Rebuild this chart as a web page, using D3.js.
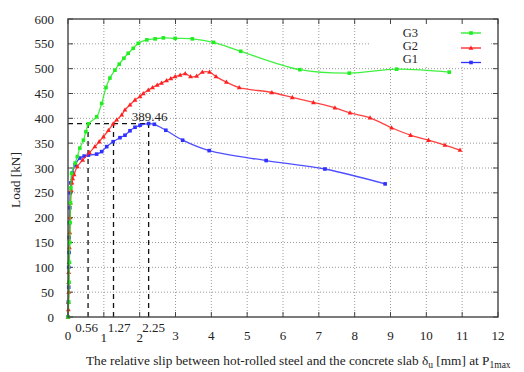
<!DOCTYPE html>
<html><head><meta charset="utf-8">
<script src="https://cdn.jsdelivr.net/npm/d3@7"></script>
<style>body{margin:0;background:#fff}svg{display:block}text{font-family:"Liberation Serif","Times New Roman",serif;fill:#222}</style>
</head><body>
<svg id="c" width="524" height="372"></svg>
<script>
// ---- data ----
const xTicks = [0,1,2,3,4,5,6,7,8,9,10,11,12];
const yTicks = [0,50,100,150,200,250,300,350,400,450,500,550,600];
const specialX = [0.56, 1.27, 2.25];
const specialLabels = ["0.56", "1.27", "2.25"];
const peakLoad = 389.46;
const peakLabel = "389.46";
const seriesNames = ["G3", "G2", "G1"];

const g3x = [0,0.02,0.03,0.04,0.05,0.06,0.07,0.08,0.1,0.2,0.26,0.33,0.43,0.5,0.57,0.8,0.94,1.06,1.17,1.31,1.43,1.56,1.68,1.82,1.96,2.2,2.43,2.66,2.99,3.47,4.06,4.82,6.47,7.85,9.17,10.64];
const g3y = [0,30,70,110,150,190,230,260,289,310,323,340,356,373,389,403,430,462,481,497,509,521,531,541,551,558,560,562,561,560,553,535,498,491,499,493];

const g2x = [0,0.01,0.01,0.02,0.02,0.02,0.03,0.04,0.05,0.06,0.07,0.09,0.11,0.13,0.17,0.26,0.41,0.6,0.75,0.87,0.99,1.13,1.26,1.36,1.5,1.59,1.73,1.87,2.01,2.1,2.24,2.36,2.49,2.61,2.75,2.87,2.99,3.13,3.27,3.42,3.59,3.75,3.95,4.13,4.42,4.78,5.69,6.26,6.85,7.45,7.87,8.43,9.03,9.56,10.06,10.52,10.94];
const g2y = [0,15,30,50,70,90,110,140,170,200,230,255,270,279,287,303,316,331,343,353,363,376,389,397,407,417,427,437,444,450,457,462,467,471,476,480,484,487,490,484,485,493,493,484,473,462,452,442,432,421,411,401,381,366,356,346,336];

const g1x = [0,0.01,0.02,0.02,0.03,0.03,0.04,0.05,0.06,0.08,0.12,0.2,0.33,0.45,0.57,0.8,0.94,1.08,1.26,1.45,1.59,1.73,1.87,2.01,2.25,2.41,2.73,3.2,3.94,5.53,7.17,8.85];
const g1y = [0,30,60,100,130,160,190,220,250,270,290,306,320,324,326,328,333,343,353,361,366,375,382,386,389.46,388,376,356,335,315,298,268];

// ---- chart ----
const svg = d3.select("#c");
const L = 68, R = 498, T = 19, B = 317;
const x = d3.scaleLinear().domain([0,12]).range([L,R]);
const y = d3.scaleLinear().domain([0,600]).range([B,T]);
const gridC = "#9a9a9a";

// grid
svg.append("g").selectAll("line").data(xTicks.slice(1,-1)).join("line")
  .attr("x1", d=>x(d)).attr("x2", d=>x(d)).attr("y1", B).attr("y2", T)
  .attr("stroke", gridC).attr("stroke-width", 1).attr("stroke-dasharray", "1,2");
svg.append("g").selectAll("line").data(yTicks.slice(1,-1)).join("line")
  .attr("x1", L).attr("x2", R).attr("y1", d=>y(d)).attr("y2", d=>y(d))
  .attr("stroke", gridC).attr("stroke-width", 1).attr("stroke-dasharray", "1,2");

// legend background
svg.append("rect").attr("x", 370).attr("y", T+1).attr("width", 120).attr("height", 46).attr("fill", "#fff");

// ticks (inward, all sides)
const tk = 5;
const tg = svg.append("g").attr("stroke", "#444").attr("stroke-width", 1);
xTicks.forEach(d => {
  tg.append("line").attr("x1", x(d)).attr("x2", x(d)).attr("y1", B).attr("y2", B - tk);
  tg.append("line").attr("x1", x(d)).attr("x2", x(d)).attr("y1", T).attr("y2", T + tk);
});
yTicks.forEach(d => {
  tg.append("line").attr("x1", L).attr("x2", L + tk).attr("y1", y(d)).attr("y2", y(d));
  tg.append("line").attr("x1", R).attr("x2", R - tk).attr("y1", y(d)).attr("y2", y(d));
});

// dashed guide lines
const dg = svg.append("g").attr("stroke", "#111").attr("stroke-width", 1.3).attr("stroke-dasharray", "5,4").attr("fill","none");
dg.append("line").attr("x1", x(0)).attr("x2", x(2.25)).attr("y1", y(peakLoad)).attr("y2", y(peakLoad));
specialX.forEach(v => {
  dg.append("line").attr("x1", x(v)).attr("x2", x(v)).attr("y1", y(0)).attr("y2", y(peakLoad));
});

// series
const series = [
  {name: seriesNames[2], xs: g1x, ys: g1y, color: "#3030ff", marker: "square"},
  {name: seriesNames[1], xs: g2x, ys: g2y, color: "#ff2020", marker: "triangle"},
  {name: seriesNames[0], xs: g3x, ys: g3y, color: "#20ee20", marker: "square"}
];
const line = d3.line().x(d=>x(d[0])).y(d=>y(d[1])).curve(d3.curveCatmullRom.alpha(0.5));
function drawMarker(g, cx, cy, s) {
  if (s.marker === "square") {
    g.append("rect").attr("x", cx-1.8).attr("y", cy-1.8).attr("width", 3.6).attr("height", 3.6).attr("fill", s.color);
  } else {
    g.append("path").attr("d", `M${cx},${cy-2.6}L${cx+2.4},${cy+1.7}L${cx-2.4},${cy+1.7}Z`).attr("fill", s.color);
  }
}
series.forEach(s => {
  const pts = s.xs.map((v,i)=>[v, s.ys[i]]);
  svg.append("path").datum(pts).attr("d", line).attr("fill","none")
    .attr("stroke", s.color).attr("stroke-width", 1.3).attr("stroke-opacity", 0.85);
  const mg = svg.append("g");
  pts.forEach(p => drawMarker(mg, x(p[0]), y(p[1]), s));
});

// border
svg.append("rect").attr("x", L).attr("y", T).attr("width", R-L).attr("height", B-T)
  .attr("fill","none").attr("stroke","#444").attr("stroke-width",1.4);

// y tick labels
svg.append("g").selectAll("text").data(yTicks).join("text")
  .attr("x", 54).attr("y", d=>y(d)+4.5).attr("text-anchor","end").attr("font-size", 13)
  .text(d=>d);
// x tick labels
svg.append("g").selectAll("text").data(xTicks).join("text")
  .attr("x", d=>x(d)).attr("y", d=> (d===1||d===2) ? 342 : 340).attr("text-anchor","middle").attr("font-size", 13)
  .text(d=>d);
// special labels
const nudge = [-1.5, 5.5, 5];
svg.append("g").selectAll("text").data(specialX).join("text")
  .attr("x", (d,i)=>x(d)+nudge[i]).attr("y", 332).attr("text-anchor","middle").attr("font-size", 13)
  .text((d,i)=>specialLabels[i]);
// peak label
svg.append("text").attr("x", x(2.25)+1).attr("y", y(peakLoad)-3).attr("text-anchor","middle").attr("font-size", 13).text(peakLabel);

// legend
const legY = [37, 50, 63];
const legLineY = [33, 48, 62.5];
const legSeries = [series[2], series[1], series[0]];
legSeries.forEach((s,i) => {
  svg.append("text").attr("x", 418).attr("y", legY[i]).attr("text-anchor","end").attr("font-size", 12.5).text(s.name);
  svg.append("line").attr("x1", 461).attr("x2", 481).attr("y1", legLineY[i]).attr("y2", legLineY[i])
    .attr("stroke", s.color).attr("stroke-width", 1.3);
  drawMarker(svg, 471, legLineY[i], s);
});

// axis titles
svg.append("text").attr("transform", "translate(20,180) rotate(-90)").attr("text-anchor","middle").attr("font-size", 13.3).text("Load [kN]");
const xt = svg.append("text").attr("x", 86).attr("y", 365).attr("font-size", 13.3);
xt.append("tspan").text("The relative slip between hot-rolled steel and the concrete slab δ");
xt.append("tspan").attr("dy", 3).attr("font-size", 9.5).text("u");
xt.append("tspan").attr("dy", -3).text(" [mm] at P");
xt.append("tspan").attr("dy", 3).attr("font-size", 9.5).text("1max");
</script>
</body></html>
